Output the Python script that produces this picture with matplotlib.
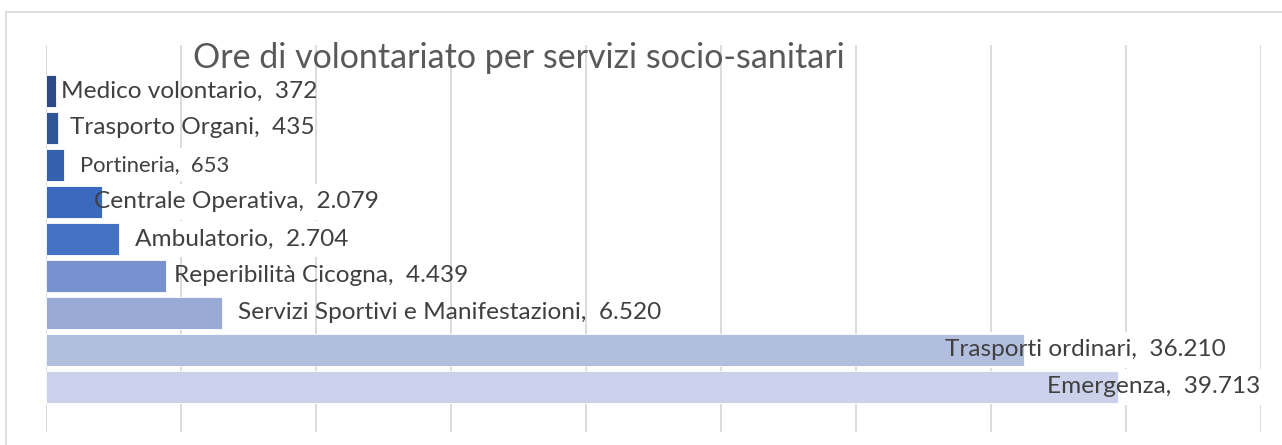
import matplotlib.pyplot as plt
from matplotlib.patches import Rectangle

# --- Data ---
categories = [
    'Medico volontario', 'Trasporto Organi', 'Portineria', 'Centrale Operativa',
    'Ambulatorio', 'Reperibilità Cicogna', 'Servizi Sportivi e Manifestazioni',
    'Trasporti ordinari', 'Emergenza',
]
hours = [372, 435, 653, 2079, 2704, 4439, 6520, 36210, 39713]

# --- Style ---
bar_colors = ['#2B4A87', '#2F5597', '#3560AC', '#3B69BD', '#4472C4',
              '#7891CF', '#99AAD7', '#B1BEDD', '#CBD1EA']
# left edge of each data label (data units), labels were placed by hand
label_x = [560, 890, 1260, 1780, 3300, 4740, 7110, 33300, 37070]
label_size = [17.6, 17.6, 15.8, 17.6, 17.6, 17.6, 17.6, 17.6, 17.6]
# labels with an opaque white box (they hide the gridlines in the original)
boxed = {'Portineria', 'Centrale Operativa', 'Ambulatorio', 'Trasporti ordinari', 'Emergenza'}

W, H = 1282, 445
fig = plt.figure(figsize=(W / 100, H / 100), dpi=100)
fig.patch.set_facecolor('white')

# chart border (runs off the right/bottom edge in the original)
fig.add_artist(Rectangle((6 / W, -0.05), 1.1, (H - 12) / H + 0.05, transform=fig.transFigure,
                         fill=False, edgecolor='#D9D9D9', linewidth=1.2))

ax = fig.add_axes([46 / W, 13 / H, 1215 / W, 387 / H])
ax.set_xlim(0, 45000)
ax.set_ylim(9.22, -1.24)
for s in ax.spines.values():
    s.set_visible(False)
ax.set_xticks(range(0, 45001, 5000))
ax.set_yticks([])
ax.tick_params(axis='x', length=0, labelbottom=False)
ax.grid(axis='x', color='#D9D9D9', linewidth=1.3, zorder=0)
ax.set_axisbelow(True)

ypos = list(range(len(categories)))
ax.barh(ypos, hours, height=0.865, color=bar_colors, edgecolor='white', linewidth=0.6, zorder=2)

for i, (cat, val) in enumerate(zip(categories, hours)):
    txt = f"{cat},  " + f"{val:,}".replace(',', '.')
    if cat in boxed:
        ax.text(label_x[i], i, txt, fontsize=label_size[i], family='Lato', color='none',
                va='center', ha='left', zorder=1.5,
                bbox=dict(boxstyle='square,pad=0.3', fc='white', ec='none'))
    ax.text(label_x[i], i, txt, fontsize=label_size[i], family='Lato', color='#404040',
            va='center', ha='left', zorder=3)

fig.text(519 / W, 1 - 68 / H, 'Ore di volontariato per servizi socio-sanitari',
         fontsize=24.5, family='Lato', color='#595959', ha='center', va='baseline')

plt.savefig('out.png', dpi=100)
